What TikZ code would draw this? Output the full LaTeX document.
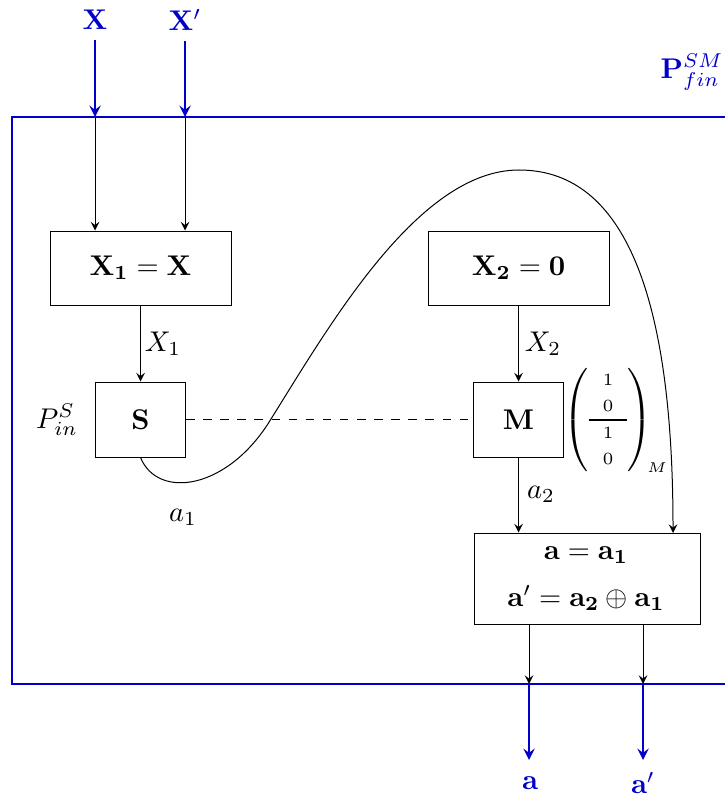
\documentclass[tikz,border=0pt]{standalone}
\usepackage{amsmath,amssymb}
\usetikzlibrary{arrows,calc}
\definecolor{myblue}{RGB}{0,0,200}
\def\u{0.35088pt}
\begin{document}
\begin{tikzpicture}[x=0.35088pt,y=-0.35088pt, >=stealth,
  every path/.style={line width=0.35pt},
  box/.style={draw, line width=0.35pt, inner sep=0pt},
  bl/.style={myblue, line width=0.75pt},
  blab/.style={text=myblue}]
\useasboundingbox (0,0) rectangle (725,799);
% outer blue frame
\draw[bl] (760,117) -- (12,117) -- (12,684) -- (760,684);
\node[blab] (pfin) at (692,72) {$\mathbf{P}^{SM}_{fin}$};
% inputs
\node[blab] (xin1) at (95,20) {$\mathbf{X}$};
\node[blab] (xin2) at (185,20) {$\mathbf{X'}$};
\coordinate (tin1) at (95,117);
\coordinate (tin2) at (185,117);
% boxes
\node[box, minimum width=181*\u, minimum height=74*\u] (x1) at (140.5,268) {$\mathbf{X_1 = X}$};
\node[box, minimum width=181*\u, minimum height=74*\u] (x2) at (518.5,268) {$\mathbf{X_2 = 0}$};
\node[box, minimum width=90*\u, minimum height=75*\u] (s) at (140.5,419.5) {$\mathbf{S}$};
\node[box, minimum width=90*\u, minimum height=75*\u] (m) at (518.5,419.5) {$\mathbf{M}$};
\node[box, minimum width=226*\u, minimum height=91*\u] (out) at (587,578.5) {};
\node[align=center, inner sep=0pt] (outtxt) at (586,579) {$\mathbf{a = a_1}$\\[4.5pt]$\mathbf{a' = a_2 \oplus a_1}$};
% labels
\node (pin) at (57,420) {$P^{S}_{in}$};
\node (lx1) at (163,344) {$X_1$};
\node (lx2) at (543,344) {$X_2$};
\node (la2) at (541,494) {$a_2$};
\node (la1) at (183,517) {$a_1$};
% matrix
\node (mat) at (608,420) {\renewcommand\arraystretch{0.76}$\left(\begin{array}{c}
 \text{\fontsize{6}{7}\selectfont 1}\\
 \text{\fontsize{6}{7}\selectfont 0}\\ \hline
 \text{\fontsize{6}{7}\selectfont 1}\\
 \text{\fontsize{6}{7}\selectfont 0}
 \end{array}\right)$};
\node (mlab) at (657,468) {\fontsize{4}{5}\selectfont $M$};
% input arrows
\draw[bl,->] (xin1) -- (tin1);
\draw[bl,->] (xin2) -- (tin2);
\draw[->] (tin1) -- (x1.north -| tin1);
\draw[->] (tin2) -- (x1.north -| tin2);
% internal arrows
\draw[->] (x1) -- (s);
\draw[->] (x2) -- (m);
\draw[->] (m) -- (out.north -| m);
\draw[dashed] (s) -- (m);
\coordinate (oin) at (673,533);
\draw[->] (s.south) .. controls (158,500) and (228,490) .. (271,419)
  .. controls (331,323) and (419,170) .. (519,170)
  .. controls (619,170) and (673,283) .. (oin);
% outputs
\coordinate (bout1) at (529,684);
\coordinate (bout2) at (643,684);
\node[blab] (aout1) at (530,783) {$\mathbf{a}$};
\node[blab] (aout2) at (643,783) {$\mathbf{a'}$};
\draw[->] (out.south -| bout1) -- (bout1);
\draw[->] (out.south -| bout2) -- (bout2);
\draw[bl,->] (bout1) -- (bout1 |- 0,760);
\draw[bl,->] (bout2) -- (bout2 |- 0,760);
\end{tikzpicture}
\end{document}
